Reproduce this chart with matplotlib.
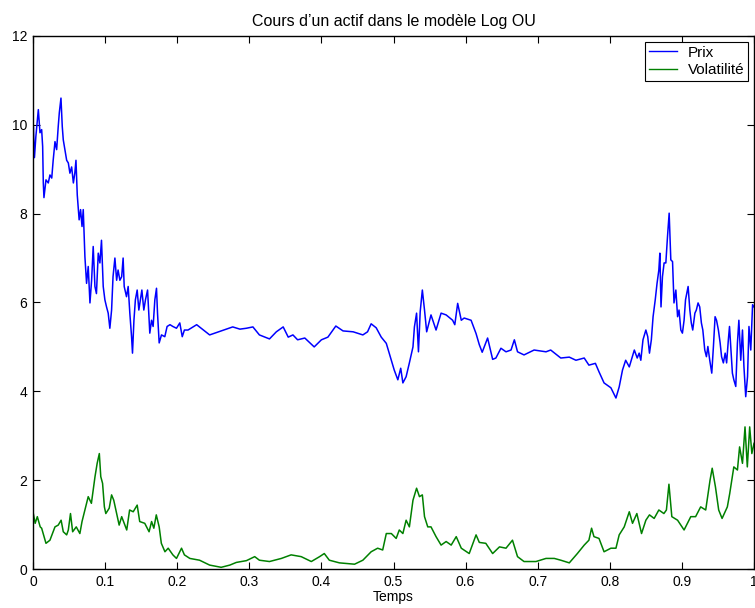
import matplotlib
matplotlib.use("Agg")
import matplotlib.pyplot as plt
from matplotlib.ticker import FormatStrFormatter

plt.rcParams['font.family'] = ['Liberation Sans', 'DejaVu Sans']

# price path (time values / price values)
prix_t = [
    # 0 - 0.068
    0.000, 0.0005, 0.002, 0.004, 0.0074, 0.0097, 0.012, 0.0134, 0.0143, 0.0152,
    0.018, 0.0212, 0.0235, 0.026, 0.028, 0.0305, 0.0328, 0.035, 0.0365, 0.0388,
    0.0406, 0.042, 0.0443, 0.0467, 0.049, 0.0512, 0.0536, 0.056, 0.058, 0.0596,
    0.0614, 0.064, 0.066, 0.068,
    # 0.07 - 0.215
    0.0697, 0.072, 0.0743, 0.0766, 0.079, 0.0813, 0.0835, 0.0859, 0.088, 0.0905,
    0.0928, 0.095, 0.0974, 0.0997, 0.102, 0.1043, 0.1066, 0.109, 0.111, 0.1136,
    0.116, 0.118, 0.1205, 0.123, 0.125, 0.1265, 0.1297, 0.132, 0.1343, 0.1367,
    0.138, 0.140, 0.142, 0.1445, 0.1468, 0.149, 0.151, 0.1537, 0.156, 0.1589,
    0.162, 0.1644, 0.1666, 0.169, 0.1713, 0.1727, 0.175, 0.1782, 0.1828, 0.186,
    0.190, 0.194, 0.199, 0.2036, 0.207, 0.210, 0.215,
    # 0.22 - 0.84
    0.227, 0.245, 0.277, 0.287, 0.296, 0.305, 0.314, 0.328, 0.3375, 0.347,
    0.354, 0.3605, 0.367, 0.377, 0.390, 0.400, 0.409, 0.420, 0.430, 0.444,
    0.4575, 0.464, 0.469, 0.476, 0.483, 0.490, 0.497, 0.501, 0.506, 0.510,
    0.513, 0.5175, 0.522, 0.527, 0.529, 0.532, 0.5346, 0.537, 0.540, 0.543,
    0.546, 0.552, 0.559, 0.566, 0.573, 0.582, 0.585, 0.589, 0.594, 0.598,
    0.6076, 0.6145, 0.619, 0.623, 0.6305, 0.6375, 0.642, 0.649, 0.656, 0.663,
    0.6676, 0.672, 0.681, 0.695, 0.7115, 0.718, 0.732, 0.7438, 0.753, 0.7645,
    0.771, 0.780, 0.785, 0.792, 0.8015, 0.8085, 0.813, 0.8176, 0.822, 0.827,
    0.834, 0.838,
    # 0.84 - 1
    0.8407, 0.843, 0.846, 0.850, 0.8526, 0.855, 0.8576, 0.860, 0.863, 0.8655,
    0.868, 0.8694, 0.871, 0.873, 0.8753, 0.8777, 0.880, 0.8823, 0.8846, 0.887,
    0.889, 0.8916, 0.894, 0.896, 0.8985, 0.9007, 0.903, 0.905, 0.9086, 0.911,
    0.913, 0.915, 0.918, 0.920, 0.9224, 0.9247, 0.927, 0.929, 0.9317, 0.934,
    0.936, 0.9386, 0.9414, 0.9437, 0.946, 0.948, 0.9506, 0.953, 0.955, 0.9575,
    0.960, 0.962, 0.9644, 0.966, 0.968, 0.970, 0.972, 0.9747, 0.977, 0.979,
    0.9816, 0.984, 0.986, 0.9885, 0.991, 0.993, 0.9955, 0.998, 1.000,
]
prix = [
    9.6, 9.96, 9.26, 9.74, 10.34, 9.82, 9.89, 9.51, 8.69, 8.36,
    8.76, 8.69, 8.87, 8.8, 9.2, 9.62, 9.44, 9.96, 10.27, 10.6,
    9.96, 9.66, 9.44, 9.2, 9.14, 8.91, 9.05, 8.69, 8.91, 9.2,
    8.42, 7.86, 8.09, 7.71,
    8.09, 7.03, 6.43, 6.81, 5.99, 6.5, 7.26, 6.36, 6.2, 7.11,
    6.89, 7.4, 6.36, 6.06, 5.9, 5.76, 5.42, 5.83, 6.58, 7.0,
    6.5, 6.73, 6.5, 6.58, 7.0, 6.36, 6.13, 6.36, 5.76, 5.23,
    4.86, 5.6, 6.06, 6.28, 5.83, 6.06, 6.28, 5.83, 6.06, 6.28,
    5.31, 5.6, 5.46, 6.06, 6.32, 5.76, 5.09, 5.27, 5.23, 5.46,
    5.5, 5.46, 5.42, 5.54, 5.23, 5.38, 5.38,
    5.5, 5.27, 5.45, 5.4, 5.42, 5.45, 5.27, 5.18, 5.34, 5.45,
    5.22, 5.27, 5.16, 5.2, 5.0, 5.16, 5.22, 5.47, 5.36, 5.34,
    5.27, 5.34, 5.52, 5.43, 5.22, 5.08, 4.7, 4.48, 4.26, 4.52,
    4.19, 4.33, 4.64, 5.0, 5.45, 5.76, 4.89, 5.79, 6.28, 5.83,
    5.34, 5.72, 5.38, 5.76, 5.72, 5.6, 5.5, 5.98, 5.6, 5.65,
    5.6, 5.3, 5.05, 4.88, 5.2, 4.72, 4.75, 4.97, 4.89, 4.93,
    5.16, 4.89, 4.82, 4.93, 4.89, 4.93, 4.75, 4.77, 4.7, 4.75,
    4.59, 4.63, 4.44, 4.19, 4.08, 3.85, 4.1, 4.48, 4.7, 4.55,
    4.93, 4.75,
    4.86, 4.7, 5.16, 5.38, 5.23, 4.86, 5.16, 5.68, 6.06, 6.43,
    6.73, 7.11, 5.9, 6.58, 6.89, 6.89, 7.48, 8.01, 6.96, 6.92,
    5.99, 6.28, 5.68, 5.83, 5.38, 5.31, 5.6, 6.06, 6.36, 5.83,
    5.54, 5.38, 5.76, 5.83, 5.99, 5.9, 5.54, 5.38, 4.93, 4.78,
    5.01, 4.7, 4.41, 5.01, 5.68, 5.6, 5.38, 5.09, 4.78, 4.64,
    4.86, 4.64, 5.16, 5.46, 4.93, 4.41, 4.26, 4.11, 5.09, 5.6,
    4.7, 5.38, 4.56, 3.88, 4.33, 5.46, 4.93, 5.95, 5.9,
]

# volatility path
vol_t = [0.000, 0.003, 0.006, 0.010, 0.012, 0.018, 0.0235, 0.0305, 0.035, 0.039,
         0.042, 0.0467, 0.049, 0.052, 0.055, 0.060, 0.065, 0.068, 0.072, 0.0766,
         0.081, 0.086, 0.089, 0.092, 0.094, 0.0965, 0.099, 0.101, 0.1057, 0.109,
         0.112, 0.116, 0.1195, 0.123, 0.130, 0.134, 0.139, 0.1445, 0.148, 0.155,
         0.161, 0.1645, 0.1676, 0.171, 0.175, 0.178, 0.183, 0.1875, 0.194, 0.199,
         0.206, 0.210, 0.2175, 0.231, 0.245, 0.261, 0.273, 0.282, 0.296, 0.3075,
         0.314, 0.328, 0.3445, 0.358, 0.372, 0.386, 0.3975, 0.404, 0.411, 0.425,
         0.446, 0.4575, 0.469, 0.478, 0.485, 0.490, 0.497, 0.5037, 0.508, 0.513,
         0.5175, 0.522, 0.527, 0.532, 0.536, 0.540, 0.543, 0.5475, 0.552, 0.559,
         0.566, 0.573, 0.580, 0.587, 0.594, 0.605, 0.6145, 0.619, 0.628, 0.6375,
         0.647, 0.656, 0.665, 0.672, 0.681, 0.6976, 0.7115, 0.723, 0.732, 0.7438,
         0.755, 0.7645, 0.771, 0.7747, 0.778, 0.785, 0.792, 0.8015, 0.8085, 0.813,
         0.820, 0.827, 0.8315, 0.8375, 0.844, 0.850, 0.855, 0.8615, 0.868, 0.875,
         0.8785, 0.882, 0.886, 0.894, 0.903, 0.9123, 0.919, 0.926, 0.933, 0.939,
         0.942, 0.9465, 0.951, 0.9557, 0.963, 0.9663, 0.972, 0.977, 0.980, 0.984,
         0.9875, 0.9907, 0.994, 0.997, 1.000]
vol = [1.29, 1.03, 1.18, 0.95, 0.92, 0.58, 0.65, 0.95, 0.99, 1.1,
       0.84, 0.77, 0.88, 1.25, 0.84, 0.95, 0.8, 1.07, 1.33, 1.63,
       1.48, 2.08, 2.38, 2.6, 2.08, 1.93, 1.4, 1.25, 1.37, 1.67,
       1.55, 1.25, 0.99, 1.18, 0.88, 1.33, 1.29, 1.44, 1.07, 1.03,
       0.84, 1.07, 0.92, 1.22, 0.95, 0.58, 0.39, 0.47, 0.32, 0.24,
       0.47, 0.32, 0.24, 0.2, 0.09, 0.04, 0.09, 0.15, 0.19, 0.28,
       0.2, 0.17, 0.24, 0.32, 0.28, 0.17, 0.28, 0.35, 0.2, 0.14,
       0.11, 0.2, 0.39, 0.47, 0.43, 0.8, 0.8, 0.69, 0.88, 0.8,
       1.1, 0.95, 1.55, 1.82, 1.63, 1.67, 1.18, 0.95, 0.95, 0.73,
       0.54, 0.62, 0.54, 0.73, 0.47, 0.35, 0.77, 0.6, 0.58, 0.35,
       0.5, 0.47, 0.65, 0.28, 0.17, 0.17, 0.24, 0.24, 0.2, 0.14,
       0.35, 0.54, 0.65, 0.92, 0.73, 0.69, 0.39, 0.47, 0.47, 0.77,
       0.95, 1.29, 1.03, 1.25, 0.8, 1.1, 1.22, 1.14, 1.33, 1.25,
       1.33, 1.91, 1.18, 1.1, 0.88, 1.18, 1.18, 1.4, 1.33, 2.0,
       2.27, 1.85, 1.33, 1.14, 1.4, 1.7, 2.3, 2.23, 2.75, 2.38,
       3.2, 2.3, 3.2, 2.6, 2.83]

xticks = [0, 0.1, 0.2, 0.3, 0.4, 0.5, 0.6, 0.7, 0.8, 0.9, 1]
yticks = [0, 2, 4, 6, 8, 10, 12]

fig = plt.figure(figsize=(7.55, 6.08), dpi=100)
ax = fig.add_axes([0.0437, 0.064, 0.955, 0.877])

ax.plot(prix_t, prix, color=(0, 0, 1), lw=1.1, label="Prix")
ax.plot(vol_t, vol, color=(0, 0.5, 0), lw=1.1, label="Volatilité")

ax.set_xlim(0, 1)
ax.set_ylim(0, 12)
ax.set_xticks(xticks)
ax.set_yticks(yticks)
ax.xaxis.set_major_formatter(FormatStrFormatter('%g'))
ax.tick_params(direction='in', top=True, right=True, length=5, width=0.8,
               labelsize=10, pad=4)
for s in ax.spines.values():
    s.set_linewidth(1.0)

ax.set_title("Cours d’un actif dans le modèle Log OU", fontsize=11.5, pad=7)
ax.set_xlabel("Temps", fontsize=10, labelpad=1)

leg = ax.legend(loc='upper right', fancybox=False, edgecolor='black',
                framealpha=1, fontsize=11, borderaxespad=0.4,
                handlelength=1.8, handletextpad=0.7, borderpad=0.25,
                labelspacing=0.22)
leg.get_frame().set_linewidth(0.8)
for h in leg.get_lines():
    h.set_linewidth(1.0)

fig.savefig("out.png", dpi=100)
